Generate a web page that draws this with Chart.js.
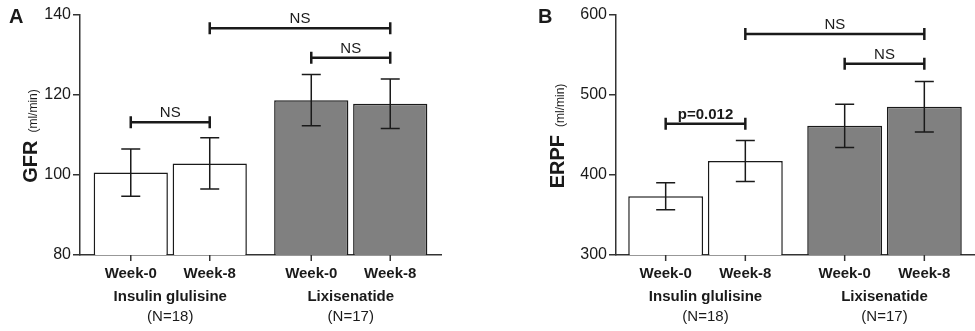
<!DOCTYPE html>
<html>
<head>
<meta charset="utf-8">
<script src="https://cdn.jsdelivr.net/npm/chart.js@4"></script>
<style>
html,body{margin:0;padding:0;background:#fff;}
#wrap{position:relative;width:975px;height:331px;overflow:hidden;}
.pane{position:absolute;top:0;height:331px;}
</style>
</head>
<body>
<div id="wrap">
  <div class="pane" id="paneA" style="left:0;width:487px;"><canvas id="chartA"></canvas></div>
  <div class="pane" id="paneB" style="left:487px;width:488px;"><canvas id="chartB"></canvas></div>
</div>
<script>
// ---------- data ----------
const groups = ['Insulin glulisine', 'Lixisenatide'];
const groupN = ['(N=18)', '(N=17)'];
const timepoints = ['Week-0', 'Week-8'];

const gfrWeek0 = [100.6, 118.7];
const gfrWeek8 = [102.9, 117.8];
const gfrErrWeek0 = [5.9, 6.4];
const gfrErrWeek8 = [6.4, 6.2];

const erpfWeek0 = [373.5, 461.5];
const erpfWeek8 = [417.5, 485.3];
const erpfErrWeek0 = [16.8, 27.0];
const erpfErrWeek8 = [25.7, 31.7];

// brackets: [group, timepoint] of both ends, level (data units), label
const gfrBrackets = [
  { from: [0, 0], to: [0, 1], level: 113.2, label: 'NS', bold: false },
  { from: [1, 0], to: [1, 1], level: 129.3, label: 'NS', bold: false },
  { from: [0, 1], to: [1, 1], level: 136.7, label: 'NS', bold: false }
];
const erpfBrackets = [
  { from: [0, 0], to: [0, 1], level: 464.0, label: 'p=0.012', bold: true },
  { from: [1, 0], to: [1, 1], level: 539.0, label: 'NS', bold: false },
  { from: [0, 1], to: [1, 1], level: 576.3, label: 'NS', bold: false }
];

const gfrTicks = { min: 80, max: 140, step: 20 };
const erpfTicks = { min: 300, max: 600, step: 100 };

// ---------- styling ----------
const FONT = "'Liberation Sans', Arial, Helvetica, sans-serif";
const INK = '#1a1a1a';
const AXIS = '#333333';
const fills = ['#ffffff', '#808080'];

const annotatePlugin = {
  id: 'annotate',
  afterDatasetsDraw(chart) {
    const o = chart.options.plugins.annotate;
    const ctx = chart.ctx;
    const ys = chart.scales.y, xs = chart.scales.x;
    const area = chart.chartArea;
    ctx.save();
    // error bars
    ctx.strokeStyle = INK;
    ctx.lineWidth = 1.5;
    chart.data.datasets.forEach((ds, di) => {
      const meta = chart.getDatasetMeta(di);
      meta.data.forEach((el, j) => {
        const v = ds.data[j], e = ds.errors[j];
        const yt = ys.getPixelForValue(v + e), yb = ys.getPixelForValue(v - e);
        const x = el.x;
        ctx.beginPath();
        ctx.moveTo(x, yt); ctx.lineTo(x, yb);
        ctx.moveTo(x - 9.5, yt); ctx.lineTo(x + 9.5, yt);
        ctx.moveTo(x - 9.5, yb); ctx.lineTo(x + 9.5, yb);
        ctx.stroke();
      });
    });
    // significance brackets
    const barX = (g, t) => chart.getDatasetMeta(t).data[g].x;
    o.brackets.forEach(b => {
      const x1 = barX(b.from[0], b.from[1]);
      const x2 = barX(b.to[0], b.to[1]);
      const y = ys.getPixelForValue(b.level);
      ctx.strokeStyle = INK;
      ctx.lineWidth = 2.5;
      ctx.beginPath();
      ctx.moveTo(x1, y); ctx.lineTo(x2, y);
      ctx.moveTo(x1, y - 6); ctx.lineTo(x1, y + 6);
      ctx.moveTo(x2, y - 6); ctx.lineTo(x2, y + 6);
      ctx.stroke();
      ctx.fillStyle = INK;
      ctx.font = (b.bold ? 'bold ' : '') + '15px ' + FONT;
      ctx.textAlign = 'center';
      ctx.textBaseline = 'alphabetic';
      ctx.fillText(b.label, (x1 + x2) / 2, y - 5);
    });
    // x tick marks and labels
    const axisY = area.bottom;
    ctx.strokeStyle = AXIS;
    ctx.lineWidth = 1.5;
    chart.data.datasets.forEach((ds, di) => {
      chart.getDatasetMeta(di).data.forEach((el, j) => {
        ctx.beginPath();
        ctx.moveTo(el.x, axisY); ctx.lineTo(el.x, axisY + 6);
        ctx.stroke();
        ctx.fillStyle = INK;
        ctx.font = 'bold 15px ' + FONT;
        ctx.textAlign = 'center';
        ctx.textBaseline = 'alphabetic';
        ctx.fillText(ds.label, el.x, axisY + 23);
      });
    });
    chart.data.labels.forEach((lab, j) => {
      const x = xs.getPixelForValue(j);
      ctx.fillStyle = INK;
      ctx.font = 'bold 15px ' + FONT;
      ctx.fillText(lab, x, axisY + 46);
      ctx.font = '15px ' + FONT;
      ctx.fillText(o.nLabels[j], x, axisY + 66);
    });
    // panel letter
    ctx.font = 'bold 20px ' + FONT;
    ctx.textAlign = 'left';
    ctx.fillText(o.letter, o.letterX, 23);
    // y title (rotated, mixed font)
    ctx.translate(o.titleX, (area.top + area.bottom) / 2 + 1);
    ctx.rotate(-Math.PI / 2);
    ctx.font = 'bold 20px ' + FONT;
    const w1 = ctx.measureText(o.title).width;
    ctx.font = '12px ' + FONT;
    const w2 = ctx.measureText(o.unit).width;
    const gap = 8;
    const start = -(w1 + gap + w2) / 2;
    ctx.font = 'bold 20px ' + FONT;
    ctx.fillText(o.title, start, 0);
    ctx.font = '12px ' + FONT;
    ctx.fillText(o.unit, start + w1 + gap, 0);
    ctx.restore();
  }
};

function makeChart(id, cfg) {
  const datasets = [
    { label: timepoints[0], data: cfg.week0, errors: cfg.err0 },
    { label: timepoints[1], data: cfg.week8, errors: cfg.err8 }
  ].map(d => Object.assign(d, {
    backgroundColor: fills,
    borderColor: INK,
    borderWidth: 1.5,
    borderSkipped: false,
    categoryPercentage: cfg.catPct,
    barPercentage: 0.94
  }));
  return new Chart(document.getElementById(id), {
    type: 'bar',
    data: { labels: groups, datasets },
    options: {
      responsive: true,
      maintainAspectRatio: false,
      animation: false,
      layout: { padding: { top: 15, right: cfg.padRight, left: 0, bottom: 0 } },
      plugins: {
        legend: { display: false },
        tooltip: { enabled: false },
        annotate: {
          brackets: cfg.brackets, nLabels: groupN,
          letter: cfg.letter, letterX: cfg.letterX,
          title: cfg.title, unit: '(ml/min)', titleX: cfg.titleX
        }
      },
      scales: {
        x: {
          type: 'category',
          ticks: { display: false },
          grid: { display: false, drawTicks: false },
          border: { display: true, color: AXIS, width: 1.5 },
          afterFit: s => { s.height = 76; }
        },
        y: {
          min: cfg.ticks.min, max: cfg.ticks.max,
          ticks: { stepSize: cfg.ticks.step, color: INK, font: { family: FONT, size: 16 }, padding: 2 },
          grid: { display: true, drawOnChartArea: false, drawTicks: true, tickLength: 7, color: AXIS, lineWidth: 1.5 },
          border: { display: true, color: AXIS, width: 1.5 },
          afterFit: s => { s.width = cfg.yWidth; }
        }
      }
    },
    plugins: [annotatePlugin]
  });
}

makeChart('chartA', {
  week0: gfrWeek0, week8: gfrWeek8, err0: gfrErrWeek0, err8: gfrErrWeek8,
  brackets: gfrBrackets, ticks: gfrTicks, letter: 'A', letterX: 9,
  title: 'GFR', titleX: 37, yWidth: 80, padRight: 46, catPct: 0.875
});
makeChart('chartB', {
  week0: erpfWeek0, week8: erpfWeek8, err0: erpfErrWeek0, err8: erpfErrWeek8,
  brackets: erpfBrackets, ticks: erpfTicks, letter: 'B', letterX: 51,
  title: 'ERPF', titleX: 77, yWidth: 129, padRight: 1, catPct: 0.89
});
</script>
</body>
</html>
